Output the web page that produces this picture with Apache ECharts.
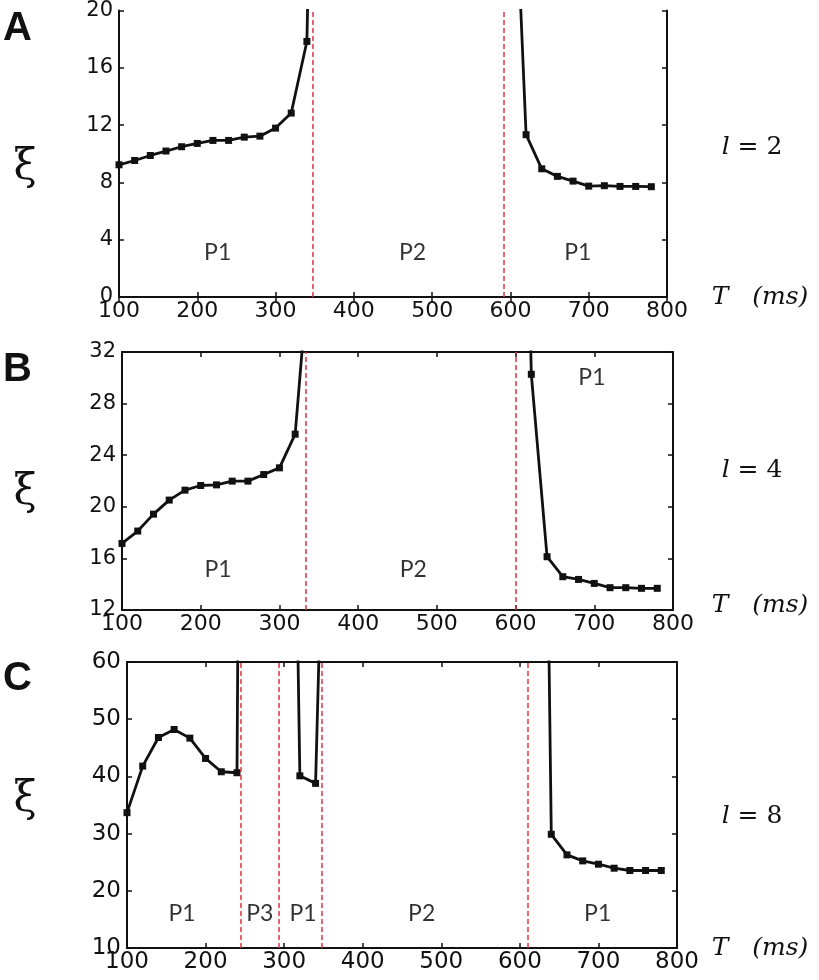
<!DOCTYPE html>
<html><head><meta charset="utf-8">
<script src="https://cdn.jsdelivr.net/npm/echarts@6/dist/echarts.min.js"></script>
<style>html,body{margin:0;padding:0;background:#fff}#c{width:819px;height:980px}</style>
</head><body><div id="c"></div>
<script>
// ---------- Panel A (l = 2) ----------
const A_T1  = [100,120,140,160,180,200,220,240,260,280,300,320,340];
const A_xi1 = [9.23,9.53,9.88,10.19,10.49,10.72,10.93,10.93,11.16,11.23,11.79,12.84,17.84];
const A_exit1 = [341.2, 21];          // curve diverges upward
const A_T2  = [620,640,660,680,700,720,740,760,780];
const A_xi2 = [11.33,8.95,8.42,8.09,7.74,7.77,7.72,7.72,7.70];
const A_entry2 = [612.5, 21];
const A_bounds = [348, 592];
const A_phaseNames = ['P1','P2','P1'];
const A_phaseT  = [226, 475, 686];
const A_phaseXi = [3.07, 3.07, 3.07];

// ---------- Panel B (l = 4) ----------
const B_T1  = [100,120,140,160,180,200,220,240,260,280,300,320];
const B_xi1 = [17.16,18.12,19.43,20.52,21.29,21.65,21.70,21.99,21.99,22.50,23.02,25.63];
const B_exit1 = [330, 33];
const B_T2  = [620,640,660,680,700,720,740,760,780];
const B_xi2 = [30.27,16.13,14.58,14.37,14.06,13.73,13.73,13.68,13.68];
const B_entry2 = [619, 33];
const B_bounds = [333, 600];
const B_phaseNames = ['P1','P2','P1'];
const B_phaseT  = [222, 470, 697];
const B_phaseXi = [15.1, 15.1, 30.0];

// ---------- Panel C (l = 8) ----------
const C_T1  = [100,120,140,160,180,200,220,240];
const C_xi1 = [33.66,41.8,46.8,48.2,46.69,43.14,40.81,40.64];
const C_exit1 = [241, 62];
const C_T2  = [320,340];
const C_xi2 = [40.1,38.78];
const C_entry2 = [317.5, 62];
const C_exit2 = [344.5, 62];
const C_T3  = [640,660,680,700,720,740,760,780];
const C_xi3 = [29.88,26.28,25.23,24.65,23.95,23.55,23.55,23.55];
const C_entry3 = [637, 62];
const C_bounds = [244.5, 293.6, 348, 610];
const C_phaseNames = ['P1','P3','P1','P2','P1'];
const C_phaseT  = [170, 269, 324, 475, 699];
const C_phaseXi = [16.1, 16.1, 16.1, 16.1, 16.1];

const xMin = 100, xMax = 800, xStep = 100;

function branch(T, xi, entry, exit) {
  const d = T.map((t, k) => [t, xi[k]]);
  if (entry) d.unshift({value: entry, symbol: 'none'});
  if (exit) d.push({value: exit, symbol: 'none'});
  return d;
}

const panels = [
  {grid:{left:119, top:10, width:548, height:287}, yMin:0, yMax:20, yInt:4, yfs:21, xfs:22,
   branches:[branch(A_T1,A_xi1,null,A_exit1), branch(A_T2,A_xi2,A_entry2,null)],
   bounds:A_bounds, pn:A_phaseNames, pt:A_phaseT, px:A_phaseXi},
  {grid:{left:122, top:352, width:551, height:258}, yMin:12, yMax:32, yInt:4, yfs:21, xfs:22,
   branches:[branch(B_T1,B_xi1,null,B_exit1), branch(B_T2,B_xi2,B_entry2,null)],
   bounds:B_bounds, pn:B_phaseNames, pt:B_phaseT, px:B_phaseXi},
  {grid:{left:127, top:662, width:550, height:286}, yMin:10, yMax:60, yInt:10, yfs:23, xfs:23,
   branches:[branch(C_T1,C_xi1,null,C_exit1), branch(C_T2,C_xi2,C_entry2,C_exit2), branch(C_T3,C_xi3,C_entry3,null)],
   bounds:C_bounds, pn:C_phaseNames, pt:C_phaseT, px:C_phaseXi}
];

const grids = [], xAxes = [], yAxes = [], series = [];
const axLine = {lineStyle:{color:'#111', width:2}};
const axTick = {inside:true, length:5, lineStyle:{color:'#111', width:1.5}};
panels.forEach((p, i) => {
  grids.push(p.grid);
  xAxes.push({type:'value', gridIndex:i, position:'bottom', min:xMin, max:xMax, interval:xStep,
    axisLine:axLine, axisTick:axTick, splitLine:{show:false},
    axisLabel:{color:'#111', fontSize:p.xfs, fontFamily:'DejaVu Sans', margin:3, showMinLabel:true, showMaxLabel:true}});
  xAxes.push({type:'value', gridIndex:i, position:'top', min:xMin, max:xMax, interval:xStep,
    axisLine:axLine, axisTick:axTick, splitLine:{show:false}, axisLabel:{show:false}});
  yAxes.push({type:'value', gridIndex:i, position:'left', min:p.yMin, max:p.yMax, interval:p.yInt,
    axisLine:axLine, axisTick:axTick, splitLine:{show:false},
    axisLabel:{color:'#111', fontSize:p.yfs, fontFamily:'DejaVu Sans', margin:6}});
  yAxes.push({type:'value', gridIndex:i, position:'right', min:p.yMin, max:p.yMax, interval:p.yInt,
    axisLine:axLine, axisTick:axTick, splitLine:{show:false}, axisLabel:{show:false}});
  p.branches.forEach((d, k) => {
    const s = {type:'line', xAxisIndex:2*i, yAxisIndex:2*i, data:d, clip:true,
      symbol:'rect', symbolSize:7, showSymbol:true,
      lineStyle:{color:'#111', width:2.8}, itemStyle:{color:'#111'}, animation:false, silent:true};
    if (k === 0) {
      s.markLine = {silent:true, symbol:'none', label:{show:false}, animation:false,
        lineStyle:{color:'#d9363e', type:[5,3], width:1.5},
        data:p.bounds.map(b => ({xAxis:b}))};
    }
    series.push(s);
  });
  series.push({type:'scatter', xAxisIndex:2*i, yAxisIndex:2*i, symbolSize:0, silent:true, animation:false,
    data:p.pn.map((n, k) => ({name:n, value:[p.pt[k], p.px[k]]})),
    label:{show:true, position:'inside', formatter:q => q.name, color:'#000', fontSize:23, fontFamily:'Lato'}});
});

const panelLetters = ['A','B','C'];
const letterY = [28, 369, 678];
const xiY = [168, 493, 800];
const lLabels = ['2','4','8'];
const lY = [147, 470, 816];
const tY = [297, 605, 948];

const graphic = [];
panelLetters.forEach((L, i) => {
  graphic.push({type:'text', left:3, top:letterY[i]-19, style:{text:L, font:'bold 40px "Liberation Sans"', fill:'#111'}});
  graphic.push({type:'text', x:25, y:xiY[i], style:{text:'ξ', font:'42px "DejaVu Serif"', fill:'#111', align:'center', verticalAlign:'middle'}});
  graphic.push({type:'text', x:752, y:lY[i], style:{text:'{i|l}{n| = ' + lLabels[i] + '}', align:'center', verticalAlign:'middle',
    rich:{i:{font:'italic 25px "DejaVu Serif"', fill:'#111'}, n:{font:'25px "DejaVu Serif"', fill:'#111'}}}});
  graphic.push({type:'text', x:760, y:tY[i], style:{text:'T   (ms)', font:'italic 25px "DejaVu Serif"', fill:'#111', align:'center', verticalAlign:'middle'}});
});

const chart = echarts.init(document.getElementById('c'), null, {renderer:'canvas'});
chart.setOption({animation:false, backgroundColor:'#fff', grid:grids, xAxis:xAxes, yAxis:yAxes, series:series, graphic:graphic});
</script></body></html>
